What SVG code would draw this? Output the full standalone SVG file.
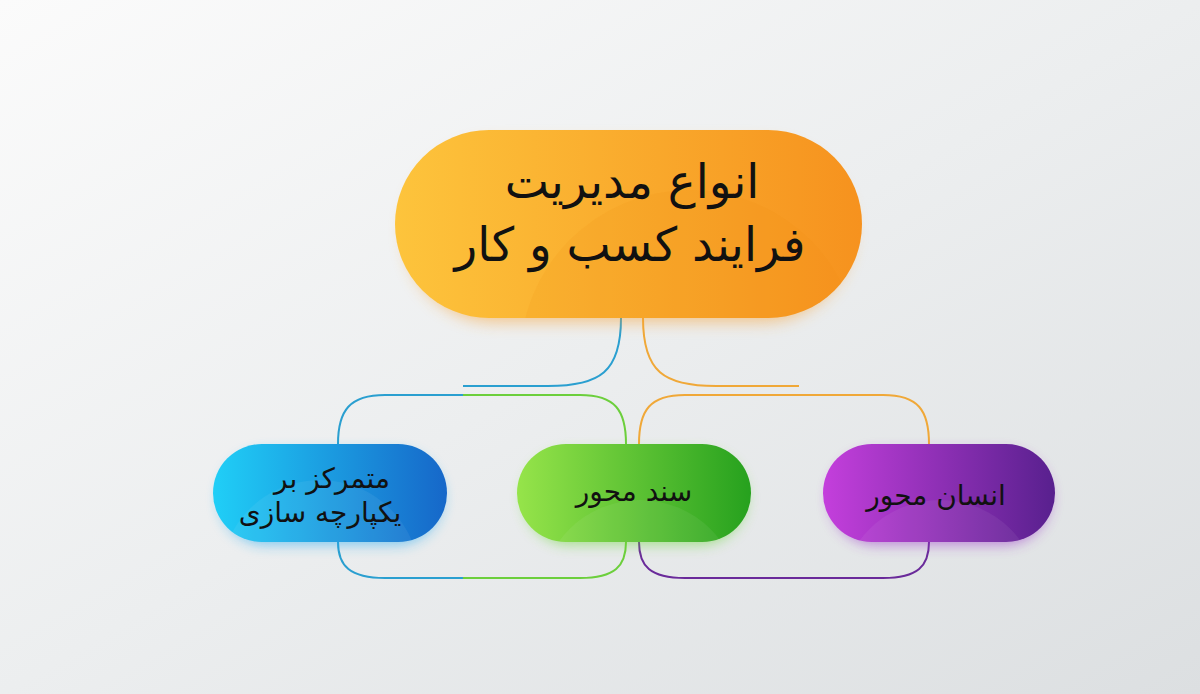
<svg xmlns="http://www.w3.org/2000/svg" width="1200" height="694" viewBox="0 0 1200 694">
<defs>
<linearGradient id="bg" x1="0" y1="0" x2="1" y2="1">
<stop offset="0" stop-color="#fbfbfb"/><stop offset="0.5" stop-color="#eceeef"/><stop offset="1" stop-color="#dcdfe1"/>
</linearGradient>
<linearGradient id="gOrange" x1="0" y1="0" x2="1" y2="0">
<stop offset="0" stop-color="#fdc43c"/><stop offset="1" stop-color="#f6921e"/>
</linearGradient>
<linearGradient id="gBlue" x1="0" y1="0" x2="1" y2="0">
<stop offset="0" stop-color="#20cff7"/><stop offset="1" stop-color="#1667c9"/>
</linearGradient>
<linearGradient id="gGreen" x1="0" y1="0" x2="1" y2="0">
<stop offset="0" stop-color="#96e44a"/><stop offset="1" stop-color="#26a11e"/>
</linearGradient>
<linearGradient id="gPurple" x1="0" y1="0" x2="1" y2="0">
<stop offset="0" stop-color="#c43fdc"/><stop offset="1" stop-color="#58208e"/>
</linearGradient>
<filter id="glowO" x="-20%" y="-30%" width="140%" height="160%"><feGaussianBlur stdDeviation="8"/></filter>
<filter id="glow" x="-20%" y="-40%" width="140%" height="180%"><feGaussianBlur stdDeviation="7"/></filter>
<clipPath id="cO"><rect x="395" y="130" width="467" height="188" rx="94"/></clipPath>
<clipPath id="cB"><rect x="213" y="444" width="234" height="98" rx="49"/></clipPath>
<clipPath id="cG"><rect x="517" y="444" width="234" height="98" rx="49"/></clipPath>
<clipPath id="cP"><rect x="823" y="444" width="232" height="98" rx="49"/></clipPath>
</defs>
<style>
.t{font-family:"DejaVu Sans","Noto Sans",sans-serif;fill:#111;text-anchor:middle}
.big{font-size:47px}
.sm{font-size:28px}
.c{fill:none;stroke-width:2}
.hl{fill:#fff;opacity:0.06}
</style>
<rect width="1200" height="694" fill="url(#bg)"/>

<g id="connectors">
<path class="c" stroke="#2a9fd0" d="M621,318 C621,372 600,386 548,386 L463,386"/>
<path class="c" stroke="#f0a838" d="M643,318 C643,372 664,386 716,386 L799,386"/>
<path class="c" stroke="#2a9fd0" d="M463,395 L385,395 C350,395 338,410 338,444"/>
<path class="c" stroke="#6ccf3c" d="M463,395 L580,395 C615,395 626,410 626,444"/>
<path class="c" stroke="#f0a838" d="M639,444 C639,410 650,395 685,395 L883,395 C918,395 929,410 929,444"/>
<path class="c" stroke="#2a9fd0" d="M338,542 C338,566 350,578 385,578 L463,578"/>
<path class="c" stroke="#6ccf3c" d="M463,578 L580,578 C615,578 626,566 626,542"/>
<path class="c" stroke="#6a2a9a" d="M639,542 C639,566 650,578 685,578 L883,578 C918,578 929,566 929,542"/>
</g>

<g id="node-main">
<rect x="405" y="142" width="447" height="180" rx="90" fill="#f7a030" opacity="0.55" filter="url(#glowO)"/>
<rect x="395" y="130" width="467" height="188" rx="94" fill="url(#gOrange)"/>
<circle cx="690" cy="360" r="170" fill="#f08a10" opacity="0.12" clip-path="url(#cO)"/>
<text class="t big" x="632" y="198">انواع مدیریت</text>
<text class="t big" x="630" y="261">فرایند کسب و کار</text>
</g>

<g id="node-blue">
<rect x="220" y="452" width="222" height="92" rx="46" fill="#20a8f0" opacity="0.6" filter="url(#glow)"/>
<rect x="213" y="444" width="234" height="98" rx="49" fill="url(#gBlue)"/>
<circle cx="320" cy="580" r="100" class="hl" clip-path="url(#cB)"/>
<text class="t sm" x="332" y="488">متمرکز بر</text>
<text class="t sm" x="320" y="522">یکپارچه سازی</text>
</g>

<g id="node-green">
<rect x="524" y="452" width="222" height="92" rx="46" fill="#6cd63a" opacity="0.6" filter="url(#glow)"/>
<rect x="517" y="444" width="234" height="98" rx="49" fill="url(#gGreen)"/>
<circle cx="640" cy="600" r="100" class="hl" clip-path="url(#cG)"/>
<text class="t sm" x="634" y="501">سند محور</text>
</g>

<g id="node-purple">
<rect x="830" y="452" width="220" height="92" rx="46" fill="#9a34c8" opacity="0.6" filter="url(#glow)"/>
<rect x="823" y="444" width="232" height="98" rx="49" fill="url(#gPurple)"/>
<circle cx="940" cy="600" r="100" class="hl" clip-path="url(#cP)"/>
<text class="t sm" x="936" y="505">انسان محور</text>
</g>
</svg>
